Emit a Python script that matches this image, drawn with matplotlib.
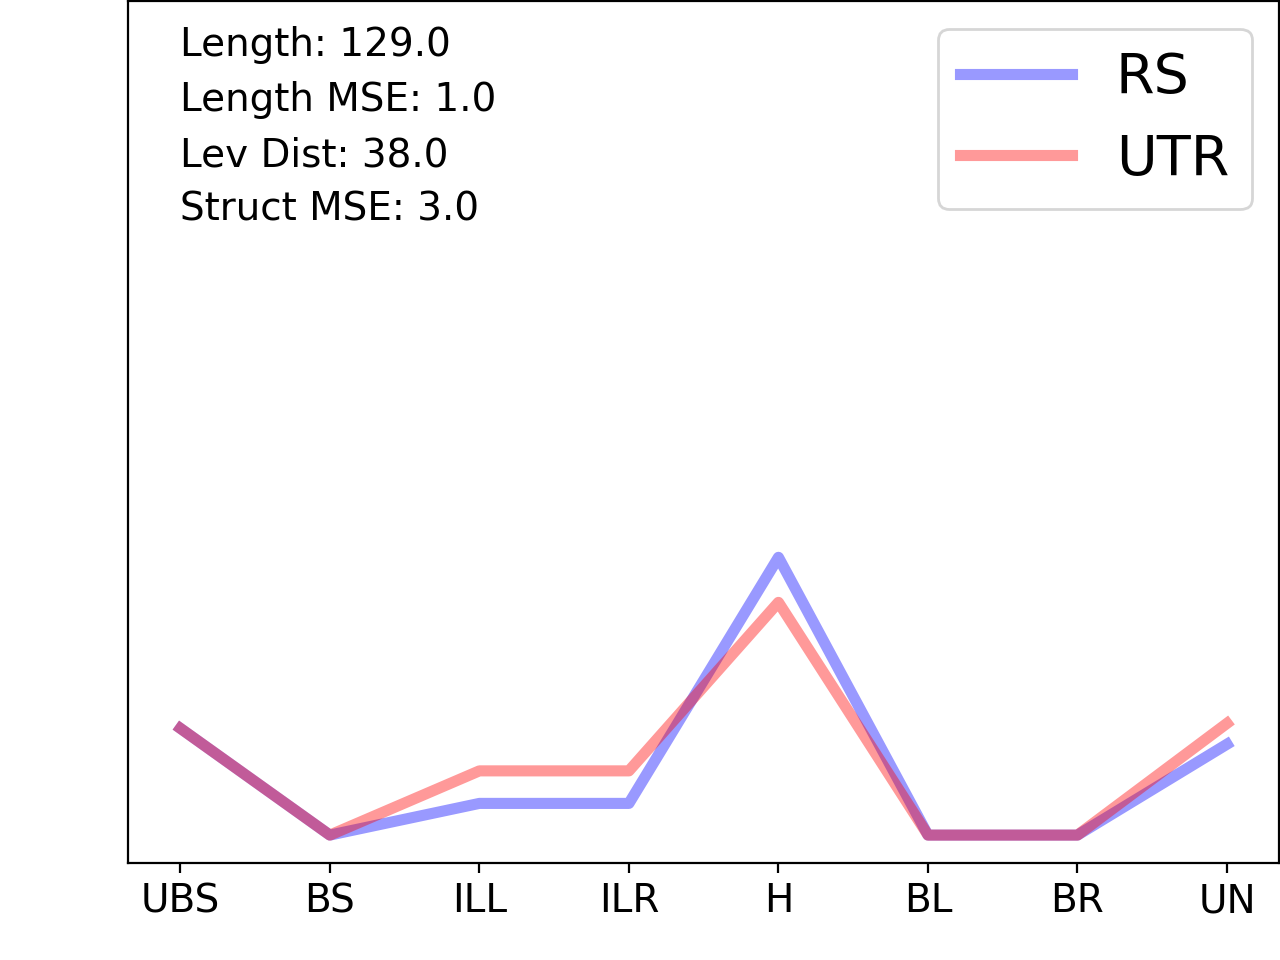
import numpy as np
import matplotlib
matplotlib.use("Agg")
import matplotlib.pyplot as plt
import matplotlib.transforms as mtransforms

# categorie della struttura
categories = ['UBS', 'BS', 'ILL', 'ILR', 'H', 'BL', 'BR', 'UN']
rs_values = [0.128, 0.0, 0.038, 0.038, 0.333, 0.0, 0.0, 0.109]
utr_values = [0.128, 0.0, 0.077, 0.077, 0.279, 0.0, 0.0, 0.134]
info_lines = ['Length: 129.0', 'Length MSE: 1.0', 'Lev Dist: 38.0', 'Struct MSE: 3.0']

fig = plt.figure(figsize=(6.4, 4.8), dpi=200)
ax = fig.add_subplot(111)
fig.subplots_adjust(left=0.1, right=0.9995, bottom=0.101, top=0.999)

x = np.arange(len(categories))
ax.plot(x, rs_values, color='b', alpha=0.4, linewidth=4, label='RS')
ax.plot(x, utr_values, color='r', alpha=0.4, linewidth=4, label='UTR')

ax.set_xticks(x)
ax.set_xticklabels(categories, fontsize=14)
ax.set_yticks([])
ax.set_ylim(-0.0335, 1.0)

# testo con le metriche
trans = mtransforms.blended_transform_factory(ax.transData, ax.transAxes)
baselines = [55, 110, 166, 220]
for line, b in zip(info_lines, baselines):
    ax.text(0, (863 - b) / 863, line, transform=trans, fontsize=14, va='baseline', ha='left')

ax.legend(loc='upper right', fontsize=20)

plt.savefig('out.png', dpi=200)
